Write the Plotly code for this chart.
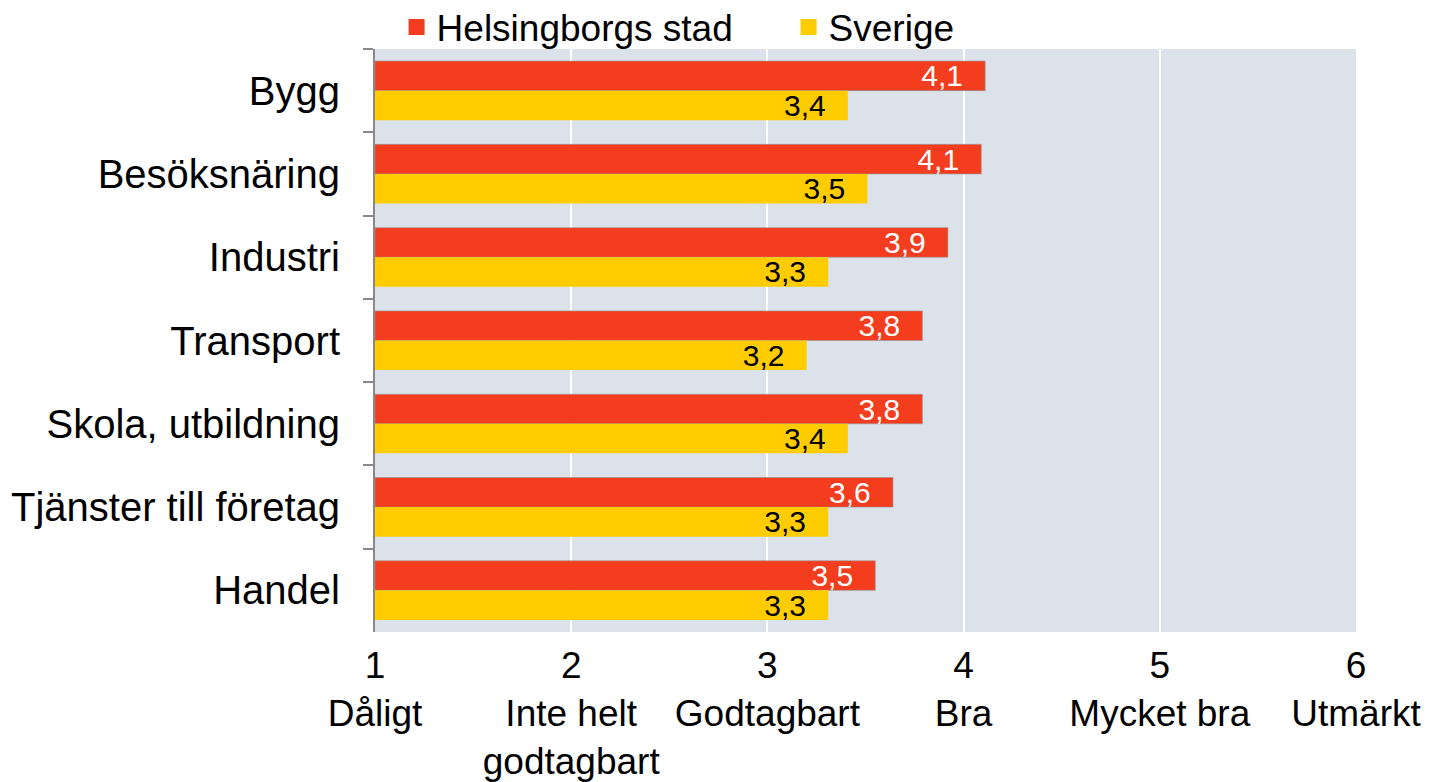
import plotly.graph_objects as go

categories = ["Bygg", "Besöksnäring", "Industri", "Transport", "Skola, utbildning",
              "Tjänster till företag", "Handel"]
helsingborg = [4.11, 4.09, 3.92, 3.79, 3.79, 3.64, 3.55]
sverige = [3.41, 3.51, 3.31, 3.20, 3.41, 3.31, 3.31]
helsingborg_labels = ["4,1", "4,1", "3,9", "3,8", "3,8", "3,6", "3,5"]
sverige_labels = ["3,4", "3,5", "3,3", "3,2", "3,4", "3,3", "3,3"]
tick_vals = [1, 2, 3, 4, 5, 6]
tick_text = ["1<br>Dåligt", "2<br>Inte helt<br>godtagbart", "3<br>Godtagbart",
             "4<br>Bra", "5<br>Mycket bra", "6<br>Utmärkt"]

RED = "#F43C1E"
YEL = "#FFCC00"
FONT = "Liberation Sans, Arial, sans-serif"
PAD = "\u00a0\u00a0\u200a"
AXIS_MIN = 1

fig = go.Figure()
fig.add_trace(go.Bar(
    y=categories, x=[v - AXIS_MIN for v in helsingborg], base=AXIS_MIN,
    orientation="h", name="Helsingborgs stad", showlegend=False,
    marker=dict(color=RED, line=dict(color="rgba(150,150,150,0.6)", width=1)),
    text=[t + PAD for t in helsingborg_labels], textposition="inside",
    insidetextanchor="end",
    textfont=dict(color="white", size=30, family=FONT), constraintext="none",
))
fig.add_trace(go.Bar(
    y=categories, x=[v - AXIS_MIN for v in sverige], base=AXIS_MIN,
    orientation="h", name="Sverige", showlegend=False,
    marker=dict(color=YEL, line=dict(width=0)),
    text=[t + PAD for t in sverige_labels], textposition="inside",
    insidetextanchor="end",
    textfont=dict(color="black", size=30, family=FONT), constraintext="none",
))
# legend entries with larger square symbols
for name, col in [("Helsingborgs stad", RED), ("Sverige", YEL)]:
    fig.add_trace(go.Scatter(
        x=[None], y=[None], mode="markers", name=name,
        marker=dict(symbol="square", size=22, color=col),
    ))

fig.update_layout(
    width=1438, height=774,
    margin=dict(l=367, r=90, t=41, b=150, autoexpand=False),
    paper_bgcolor="white", plot_bgcolor="#DCE2EA",
    barmode="group", bargap=0.29, bargroupgap=0,
    font=dict(family=FONT, size=37, color="black"),
    showlegend=True,
    legend=dict(orientation="h", x=0.022, xanchor="left", y=0.984, yanchor="bottom",
                font=dict(size=37), traceorder="normal", itemsizing="trace",
                entrywidth=347, bgcolor="rgba(0,0,0,0)"),
    xaxis=dict(range=[1, 6], tickvals=tick_vals, ticktext=tick_text,
               showgrid=True, gridcolor="white", gridwidth=2, zeroline=False,
               showline=False, ticks="", tickfont=dict(size=37), ticklabelstandoff=8),
    yaxis=dict(type="category", autorange="reversed", tickson="boundaries",
               ticks="outside", ticklen=10, tickcolor="#888888", tickwidth=2,
               showline=True, linecolor="#888888", linewidth=2, showgrid=False,
               tickfont=dict(size=40), ticklabelstandoff=25),
)
fig.write_html("out.html")
